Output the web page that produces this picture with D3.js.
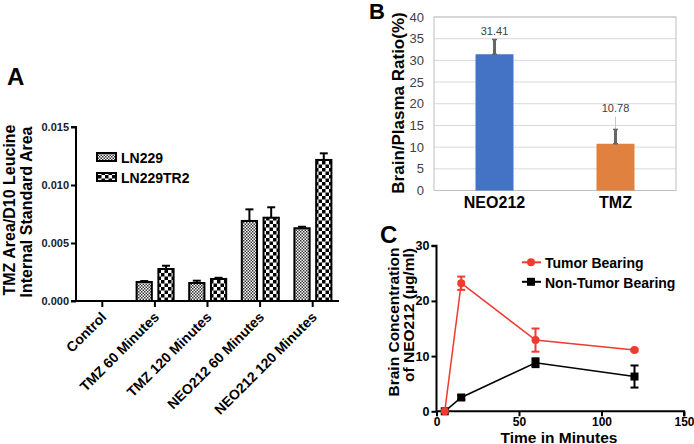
<!DOCTYPE html>
<html><head><meta charset="utf-8">
<script src="https://cdn.jsdelivr.net/npm/d3@7"></script>
<style>body{margin:0;background:#fff}svg{display:block;font-family:"Liberation Sans",Arial,sans-serif}</style>
</head><body><svg id="c" width="694" height="444"></svg>
<script>
// Panel A data
const catsA = ["Control","TMZ 60 Minutes","TMZ 120 Minutes","NEO212 60 Minutes","NEO212 120 Minutes"];
const seriesA = ["LN229","LN229TR2"];
const ln229 = [0, 0.00164, 0.00155, 0.0069, 0.00627];
const ln229Err = [0, 0.00008, 0.0002, 0.001, 0.00013];
const ln229tr2 = [0, 0.00276, 0.0019, 0.00718, 0.01216];
const ln229tr2Err = [0, 0.00028, 0.0001, 0.0009, 0.00057];
const ticksA = [0, 0.005, 0.010, 0.015];
// Panel B data
const catsB = ["NEO212","TMZ"];
const ratioB = [31.41, 10.78];
const ratioErrB = [3.4, 3.3];
const ticksB = [0,5,10,15,20,25,30,35,40];
// Panel C data
const timeC = [5, 15, 60, 120];
const tumor = [0, 23.2, 12.9, 11.1];
const tumorErr = [0, 1.2, 2.1, 0.2];
const nonTumor = [0, 2.5, 8.8, 6.3];
const nonTumorErr = [0, 0.4, 0.8, 2.0];
const ticksCx = [0, 50, 100, 150];
const ticksCy = [0, 10, 20, 30];

const svg = d3.select("#c");
const defs = svg.append("defs");
// fine checker
const p1 = defs.append("pattern").attr("id","fine").attr("width",3).attr("height",3).attr("patternUnits","userSpaceOnUse");
p1.append("rect").attr("width",3).attr("height",3).attr("fill","#fff");
p1.append("rect").attr("width",1.5).attr("height",1.5).attr("fill","#333");
p1.append("rect").attr("x",1.5).attr("y",1.5).attr("width",1.5).attr("height",1.5).attr("fill","#333");
// coarse checker
const p2 = defs.append("pattern").attr("id","coarse").attr("width",7).attr("height",7).attr("patternUnits","userSpaceOnUse");
p2.append("rect").attr("width",7).attr("height",7).attr("fill","#fff");
p2.append("rect").attr("width",3.5).attr("height",3.5).attr("fill","#000");
p2.append("rect").attr("x",3.5).attr("y",3.5).attr("width",3.5).attr("height",3.5).attr("fill","#000");
const fills = ["url(#fine)","url(#coarse)"];

// ---------- Panel A ----------
const xA = d3.scaleBand().domain(catsA).range([76,339]).padding(0);
const xAin = d3.scaleBand().domain(seriesA).range([8,45]).paddingInner(0.3);
const yA = d3.scaleLinear().domain([0,0.015]).range([301,127]);
const gA = svg.append("g");
gA.append("text").attr("x",7).attr("y",85).attr("font-size",24).attr("font-weight","bold").text("A");
const dataA = [];
catsA.forEach((c,i)=>{
  dataA.push({c,s:0,v:ln229[i],e:ln229Err[i]});
  dataA.push({c,s:1,v:ln229tr2[i],e:ln229tr2Err[i]});
});
const barsA = dataA.filter(d=>d.v>0);
// error bars
gA.selectAll("line.err").data(barsA).join("line")
  .attr("x1",d=>xA(d.c)+xAin(seriesA[d.s])+xAin.bandwidth()/2)
  .attr("x2",d=>xA(d.c)+xAin(seriesA[d.s])+xAin.bandwidth()/2)
  .attr("y1",d=>yA(d.v)).attr("y2",d=>yA(d.v+d.e)).attr("stroke","#000").attr("stroke-width",2);
gA.selectAll("line.cap").data(barsA).join("line")
  .attr("x1",d=>xA(d.c)+xAin(seriesA[d.s])+xAin.bandwidth()/2-4)
  .attr("x2",d=>xA(d.c)+xAin(seriesA[d.s])+xAin.bandwidth()/2+4)
  .attr("y1",d=>yA(d.v+d.e)).attr("y2",d=>yA(d.v+d.e)).attr("stroke","#000").attr("stroke-width",2);
gA.selectAll("rect.bar").data(barsA).join("rect")
  .attr("x",d=>xA(d.c)+xAin(seriesA[d.s])).attr("width",xAin.bandwidth())
  .attr("y",d=>yA(d.v)).attr("height",d=>yA(0)-yA(d.v))
  .attr("fill",d=>fills[d.s]).attr("stroke","#000").attr("stroke-width",2);
// axes
const axYA = gA.append("g").attr("transform","translate(76,0)")
  .call(d3.axisLeft(yA).tickValues(ticksA).tickFormat(d3.format(".3f")).tickSize(5).tickPadding(2));
const axXA = gA.append("g").attr("transform","translate(0,301)")
  .call(d3.axisBottom(xA).tickSize(6).tickFormat(""));
[axYA,axXA].forEach(a=>{a.select(".domain").attr("stroke","#000").attr("stroke-width",2);
  a.selectAll(".tick line").attr("stroke","#000").attr("stroke-width",2);});
axYA.selectAll("text").attr("font-size",11).attr("font-weight","bold").attr("fill","#1a1a2a")
  .attr("font-family","Liberation Sans, Arial");
axYA.select(".domain").attr("d","M-5,127H0V301H-5");
axXA.select(".domain").attr("d","M76,0H339");
gA.selectAll("text.catA").data(catsA).join("text")
  .attr("transform",d=>`translate(${xA(d)+xA.bandwidth()/2+5},${318}) rotate(-45)`)
  .attr("text-anchor","end").attr("font-size",14).attr("font-weight","bold").text(d=>d);
// y label
gA.append("text").attr("transform","translate(15,210) rotate(-90)").attr("text-anchor","middle")
  .attr("font-size",16).attr("font-weight","bold").text("TMZ Area/D10 Leucine");
gA.append("text").attr("transform","translate(32,212) rotate(-90)").attr("text-anchor","middle")
  .attr("font-size",16).attr("font-weight","bold").text("Internal Standard Area");
// legend
seriesA.forEach((s,i)=>{
  gA.append("rect").attr("x",97).attr("y",153+i*20).attr("width",19).attr("height",8)
    .attr("fill",fills[i]).attr("stroke","#000").attr("stroke-width",2);
  gA.append("text").attr("x",121).attr("y",163+i*20).attr("font-size",14).attr("font-weight","bold").text(s);
});

// ---------- Panel B ----------
const xB = d3.scaleBand().domain(catsB).range([434,676]).padding(0);
const yB = d3.scaleLinear().domain([0,40]).range([190.5,17]);
const gB = svg.append("g");
gB.append("text").attr("x",369).attr("y",19).attr("font-size",22).attr("font-weight","bold").text("B");
gB.selectAll("line.grid").data(ticksB).join("line")
  .attr("x1",434).attr("x2",676).attr("y1",d=>yB(d)).attr("y2",d=>yB(d))
  .attr("stroke","#d9d9d9").attr("stroke-width",1);
gB.append("rect").attr("x",434).attr("y",yB(40)).attr("width",242).attr("height",yB(0)-yB(40))
  .attr("fill","none").attr("stroke","#bfbfbf").attr("stroke-width",1);
gB.selectAll("text.yt").data(ticksB).join("text")
  .attr("x",424).attr("y",d=>yB(d)+4.5).attr("text-anchor","end").attr("font-size",13).attr("fill","#404040")
  .text(d=>d);
const colB = ["#4472C4","#E0813F"];
const bwB = 38;
gB.selectAll("rect.bar").data(catsB).join("rect")
  .attr("x",d=>xB(d)+xB.bandwidth()/2-bwB/2).attr("width",bwB)
  .attr("y",(d,i)=>yB(ratioB[i])).attr("height",(d,i)=>yB(0)-yB(ratioB[i]))
  .attr("fill",(d,i)=>colB[i]);
// faint leader for TMZ label
gB.append("line").attr("x1",xB("TMZ")+xB.bandwidth()/2).attr("x2",xB("TMZ")+xB.bandwidth()/2)
  .attr("y1",yB(ratioB[1]+ratioErrB[1])).attr("y2",yB(17)).attr("stroke","#c8c8c8").attr("stroke-width",1);
catsB.forEach((c,i)=>{
  const cx = xB(c)+xB.bandwidth()/2;
  gB.append("line").attr("x1",cx).attr("x2",cx).attr("y1",yB(ratioB[i])).attr("y2",yB(ratioB[i]+ratioErrB[i]))
    .attr("stroke","#666").attr("stroke-width",3);
  gB.append("line").attr("x1",cx-2.5).attr("x2",cx+2.5).attr("y1",yB(ratioB[i]+ratioErrB[i])).attr("y2",yB(ratioB[i]+ratioErrB[i]))
    .attr("stroke","#666").attr("stroke-width",1.5);
  gB.append("line").attr("x1",cx-2.5).attr("x2",cx+2.5).attr("y1",yB(ratioB[i])).attr("y2",yB(ratioB[i]))
    .attr("stroke","#666").attr("stroke-width",1.5);
});
gB.selectAll("text.val").data(catsB).join("text")
  .attr("x",d=>xB(d)+xB.bandwidth()/2).attr("y",(d,i)=>i===0?yB(ratioB[i]+ratioErrB[i])-5:yB(17)-5)
  .attr("text-anchor","middle").attr("font-size",11).attr("fill","#404040")
  .text((d,i)=>ratioB[i].toFixed(2));
gB.selectAll("text.cat").data(catsB).join("text")
  .attr("x",d=>xB(d)+xB.bandwidth()/2).attr("y",207.5).attr("text-anchor","middle")
  .attr("font-size",16).attr("font-weight","bold").text(d=>d);
gB.append("text").attr("transform","translate(404,103) rotate(-90)").attr("text-anchor","middle")
  .attr("font-size",17).attr("font-weight","bold").text("Brain/Plasma Ratio(%)");

// ---------- Panel C ----------
const xC = d3.scaleLinear().domain([0,150]).range([436.5,684]);
const yC = d3.scaleLinear().domain([0,30]).range([411.3,245.7]);
const gC = svg.append("g");
gC.append("text").attr("x",380).attr("y",243).attr("font-size",24).attr("font-weight","bold").text("C");
const axYC = gC.append("g").attr("transform","translate(436.5,0)")
  .call(d3.axisLeft(yC).tickValues(ticksCy).tickSize(5).tickPadding(2));
const axXC = gC.append("g").attr("transform","translate(0,411.3)")
  .call(d3.axisBottom(xC).tickValues(ticksCx).tickSize(5).tickPadding(1));
[axYC,axXC].forEach(a=>{a.select(".domain").attr("stroke","#000").attr("stroke-width",2);
  a.selectAll(".tick line").attr("stroke","#000").attr("stroke-width",2);
  a.selectAll("text").attr("font-size",12.5).attr("font-weight","bold").attr("fill","#000").attr("font-family","Liberation Sans, Arial");});
axXC.selectAll("text").attr("font-size",12);
axYC.select(".domain").attr("d","M-5,245.7H0V411.3");
axXC.select(".domain").attr("d","M436.5,0H684V5");
const seriesC = [
  {vals:tumor, err:tumorErr, color:"#EE3B2F", shape:"circle"},
  {vals:nonTumor, err:nonTumorErr, color:"#000", shape:"square"}
];
seriesC.slice().reverse().forEach(s=>{
  const pts = timeC.map((t,i)=>({t,v:s.vals[i],e:s.err[i]}));
  gC.append("path").datum(pts).attr("fill","none").attr("stroke",s.color).attr("stroke-width",1.5)
    .attr("d",d3.line().x(d=>xC(d.t)).y(d=>yC(d.v)));
  pts.filter(d=>d.e>0).forEach(d=>{
    gC.append("line").attr("x1",xC(d.t)).attr("x2",xC(d.t)).attr("y1",yC(d.v-d.e)).attr("y2",yC(d.v+d.e))
      .attr("stroke",s.color).attr("stroke-width",2);
    [d.v-d.e,d.v+d.e].forEach(y=>gC.append("line").attr("x1",xC(d.t)-4).attr("x2",xC(d.t)+4)
      .attr("y1",yC(y)).attr("y2",yC(y)).attr("stroke",s.color).attr("stroke-width",2));
  });
  if(s.shape==="circle"){
    gC.selectAll(null).data(pts).join("circle").attr("cx",d=>xC(d.t)).attr("cy",d=>yC(d.v)).attr("r",4).attr("fill",s.color);
  } else {
    gC.selectAll(null).data(pts).join("rect").attr("x",d=>xC(d.t)-4).attr("y",d=>yC(d.v)-4).attr("width",8).attr("height",8).attr("fill",s.color);
  }
});
// legend C
const legC = [{label:"Tumor Bearing",color:"#EE3B2F",shape:"circle"},{label:"Non-Tumor Bearing",color:"#000",shape:"square"}];
legC.forEach((l,i)=>{
  const y = 262.3+i*19.5;
  gC.append("line").attr("x1",522).attr("x2",541).attr("y1",y).attr("y2",y).attr("stroke",l.color).attr("stroke-width",2);
  if(l.shape==="circle") gC.append("circle").attr("cx",531).attr("cy",y).attr("r",4).attr("fill",l.color);
  else gC.append("rect").attr("x",527).attr("y",y-4).attr("width",8).attr("height",8).attr("fill",l.color);
  gC.append("text").attr("x",545).attr("y",y+6).attr("font-size",14).attr("font-weight","bold").attr("fill","#000").text(l.label);
});
gC.append("text").attr("transform","translate(399,322) rotate(-90)").attr("text-anchor","middle")
  .attr("font-size",15.5).attr("font-weight","bold").text("Brain Concentration");
gC.append("text").attr("transform","translate(413.5,315) rotate(-90)").attr("text-anchor","middle")
  .attr("font-size",15.5).attr("font-weight","bold").text("of NEO212 (µg/ml)");
gC.append("text").attr("x",559).attr("y",442.5).attr("text-anchor","middle")
  .attr("font-size",15.5).attr("font-weight","bold").text("Time in Minutes");
</script></body></html>
